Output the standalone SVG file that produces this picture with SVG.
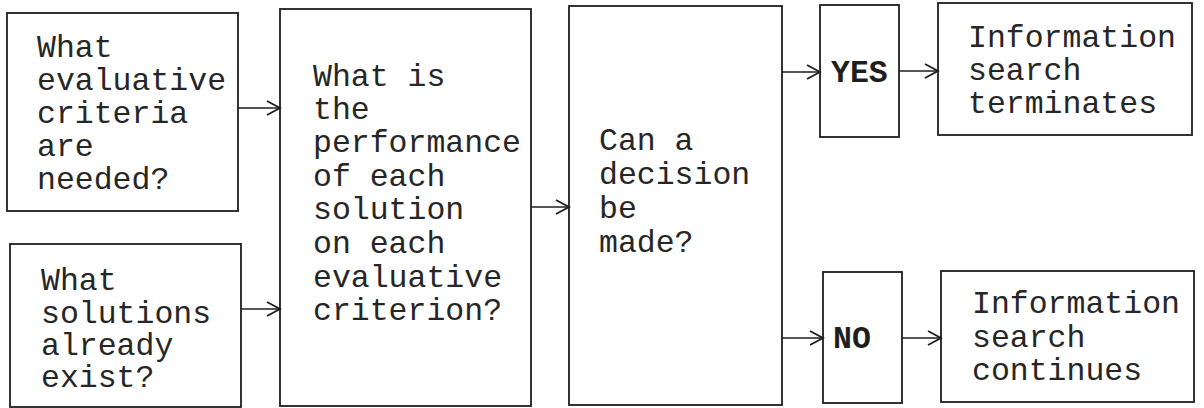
<svg xmlns="http://www.w3.org/2000/svg" width="1204" height="408" viewBox="0 0 1204 408">
  <style>
    .box { fill: #ffffff; stroke: #1e1e1e; stroke-width: 1.8; }
    .lbl { font-family: "Liberation Mono", "Courier New", monospace; font-size: 31.5px; fill: #262626; }
    .bold { font-weight: bold; fill: #1e1e1e; }
    .wire { fill: none; stroke: #1e1e1e; stroke-width: 1.6; }
  </style>
  <defs>
    <!-- open chevron head used on every connector -->
    <marker id="chev" markerUnits="userSpaceOnUse" markerWidth="20" markerHeight="20" refX="14" refY="8" orient="auto" overflow="visible">
      <path d="M1,1 L14,8 L1,15" fill="none" stroke="#1e1e1e" stroke-width="1.8"/>
    </marker>
  </defs>
  <rect width="1204" height="408" fill="#ffffff"/>

  <g id="criteria">
    <rect class="box" x="7" y="13" width="231" height="198"/>
    <text class="lbl">
      <tspan x="37" y="57">What</tspan>
      <tspan x="37" y="90">evaluative</tspan>
      <tspan x="37" y="123">criteria</tspan>
      <tspan x="37" y="156">are</tspan>
      <tspan x="37" y="189">needed?</tspan>
    </text>
  </g>

  <g id="solutions">
    <rect class="box" x="10" y="244" width="231" height="163"/>
    <text class="lbl">
      <tspan x="41" y="290">What</tspan>
      <tspan x="41" y="323">solutions</tspan>
      <tspan x="41" y="355">already</tspan>
      <tspan x="41" y="387">exist?</tspan>
    </text>
  </g>

  <g id="performance">
    <rect class="box" x="280" y="9" width="251" height="397"/>
    <text class="lbl">
      <tspan x="313" y="86">What is</tspan>
      <tspan x="313" y="119">the</tspan>
      <tspan x="313" y="152">performance</tspan>
      <tspan x="313" y="186">of each</tspan>
      <tspan x="313" y="219">solution</tspan>
      <tspan x="313" y="253">on each</tspan>
      <tspan x="313" y="287">evaluative</tspan>
      <tspan x="313" y="320">criterion?</tspan>
    </text>
  </g>

  <g id="decision">
    <rect class="box" x="569" y="6" width="213" height="399"/>
    <text class="lbl">
      <tspan x="599" y="150">Can a</tspan>
      <tspan x="599" y="184">decision</tspan>
      <tspan x="599" y="218">be</tspan>
      <tspan x="599" y="252">made?</tspan>
    </text>
  </g>

  <g id="yes">
    <rect class="box" x="820" y="5" width="79" height="132"/>
    <text class="lbl bold" x="831" y="82">YES</text>
  </g>

  <g id="terminates">
    <rect class="box" x="938" y="3" width="254" height="132"/>
    <text class="lbl">
      <tspan x="968" y="47">Information</tspan>
      <tspan x="968" y="80">search</tspan>
      <tspan x="968" y="113">terminates</tspan>
    </text>
  </g>

  <g id="no">
    <rect class="box" x="823" y="272" width="79" height="131"/>
    <text class="lbl bold" x="833" y="348">NO</text>
  </g>

  <g id="continues">
    <rect class="box" x="941" y="271" width="253" height="131"/>
    <text class="lbl">
      <tspan x="972" y="313">Information</tspan>
      <tspan x="972" y="347">search</tspan>
      <tspan x="972" y="380">continues</tspan>
    </text>
  </g>

  <g id="connectors">
    <path class="wire" d="M238,108 H280" marker-end="url(#chev)"/>
    <path class="wire" d="M241,309 H280" marker-end="url(#chev)"/>
    <path class="wire" d="M531,207 H569" marker-end="url(#chev)"/>
    <path class="wire" d="M782,72 H820" marker-end="url(#chev)"/>
    <path class="wire" d="M899,71 H938" marker-end="url(#chev)"/>
    <path class="wire" d="M782,338 H823" marker-end="url(#chev)"/>
    <path class="wire" d="M902,338 H941" marker-end="url(#chev)"/>
  </g>
</svg>
